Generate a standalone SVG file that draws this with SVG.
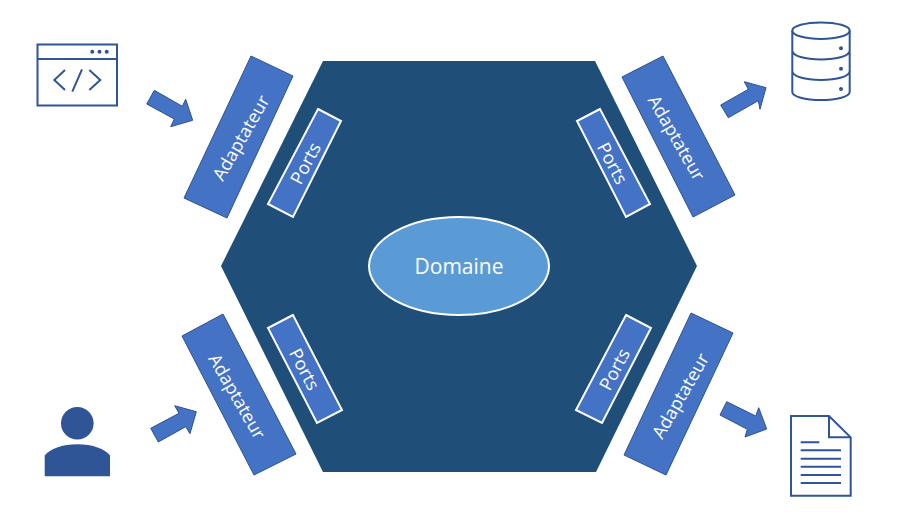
<svg xmlns="http://www.w3.org/2000/svg" width="915" height="524" viewBox="0 0 915 524">
<style>
.block{fill:#4472C4;stroke:#2F528F;stroke-width:1}
.port{fill:#4472C4;stroke:#fff;stroke-width:2}
.lbl{font-family:"Open Sans","Liberation Sans",sans-serif;fill:#fff;text-anchor:middle;dominant-baseline:central}
.ad{font-size:18px}
.pt{font-size:18px}
.dm{font-size:21px}
.ico{fill:none;stroke:#2F5597;stroke-width:2}
.fillico{fill:#2F5597}
</style>
<rect width="915" height="524" fill="#fff"/>
<g id="hexagon"><polygon points="323,61 595,61 697,266 596,472 323,472 221,266" fill="#1F4E79"/></g>
<g id="domaine">
<ellipse cx="459" cy="266" rx="90" ry="49" fill="#5B9BD5" stroke="#fff" stroke-width="2"/>
<text class="lbl dm" x="459" y="265.500">Domaine</text>
</g>
<g id="adapter-top-left"><polygon class="block" points="251,56 293,76 227,218 184,198"/><text class="lbl ad" transform="translate(240.500,137.500) rotate(-60)">Adaptateur</text></g>
<g id="adapter-top-right"><polygon class="block" points="663,56 622,77 693,217 735,195"/><text class="lbl ad" transform="translate(677,137.500) rotate(60)">Adaptateur</text></g>
<g id="adapter-bottom-left"><polygon class="block" points="223,314 182,336 254,475 296,454"/><text class="lbl ad" transform="translate(237.500,396) rotate(60)">Adaptateur</text></g>
<g id="adapter-bottom-right"><polygon class="block" points="691,313 733,333 666,475 624,455"/><text class="lbl ad" transform="translate(680,395.500) rotate(-60)">Adaptateur</text></g>
<g id="ports-top-left"><polygon class="port" points="318,109 341,121 293,217 268,204"/><text class="lbl pt" transform="translate(305,163) rotate(-62)">Ports</text></g>
<g id="ports-top-right"><polygon class="port" points="600,109 577,121 626,217 650,204"/><text class="lbl pt" transform="translate(613,163) rotate(62)">Ports</text></g>
<g id="ports-bottom-left"><polygon class="port" points="293,315 268,328 317,423 342,410"/><text class="lbl pt" transform="translate(305,369) rotate(62)">Ports</text></g>
<g id="ports-bottom-right"><polygon class="port" points="626,315 651,328 602,423 576,410"/><text class="lbl pt" transform="translate(614,369) rotate(-62)">Ports</text></g>
<g id="connectors">
<polygon class="block" points="146.700,104 154.300,90.300 182.300,106.300 185.700,99.300 192.700,120.300 170.700,126.700 174.300,119"/>
<polygon class="block" points="720.700,105 728.300,117.700 758.300,100.700 760,109.300 766,87.700 744.300,81.700 748.300,89.300"/>
<polygon class="block" points="150.700,428.300 158.300,442 185.700,426.700 190,433.700 196.300,411.700 174.700,405.700 179,413.300"/>
<polygon class="block" points="726.700,401.700 720,415 747.300,429.300 745,437 766.700,429 758.700,407.700 755.700,416"/>
</g>
<g id="browser-icon">
<rect class="ico" x="37.500" y="44.500" width="79.500" height="61"/>
<path class="ico" d="M37.500 59H117M65 70L54.300 80L65 90M89.300 70L100.300 80L89.300 90M82 69.300L72.300 91.700"/>
<circle class="fillico" cx="92.300" cy="51.700" r="2"/><circle class="fillico" cx="99.500" cy="51.700" r="2"/><circle class="fillico" cx="106.700" cy="51.700" r="2"/>
</g>
<g id="database-icon">
<ellipse class="ico" cx="821" cy="30.700" rx="28.700" ry="8.300"/>
<path class="ico" d="M792.300 30.700V92C792.300 96.500 805 100 821 100S849.700 96.500 849.700 92V30.700M792.300 50.500C792.300 56 805 59.500 821 59.500S849.700 56 849.700 50.500M792.300 71C792.300 76.500 805 80 821 80S849.700 76.500 849.700 71"/>
<circle class="fillico" cx="841" cy="48.300" r="2"/><circle class="fillico" cx="841" cy="68.700" r="2"/><circle class="fillico" cx="841" cy="89" r="2"/>
</g>
<g id="user-icon" class="fillico">
<circle cx="77.300" cy="423.300" r="16.300"/>
<path d="M44.700 476.300V455.500C50 449 62 444.300 77.300 444.300S105 449 110 455.500V476.300Z"/>
</g>
<g id="document-icon">
<path class="ico" d="M791 416H829L850.700 437.300V495.700H791ZM829 416V437.300H850.700"/>
<path class="ico" d="M800.700 442.300H819.300M800.700 450.300H841M800.700 458.700H841M800.700 466.700H841M800.700 475H841M800.700 483H841"/>
</g>
</svg>
